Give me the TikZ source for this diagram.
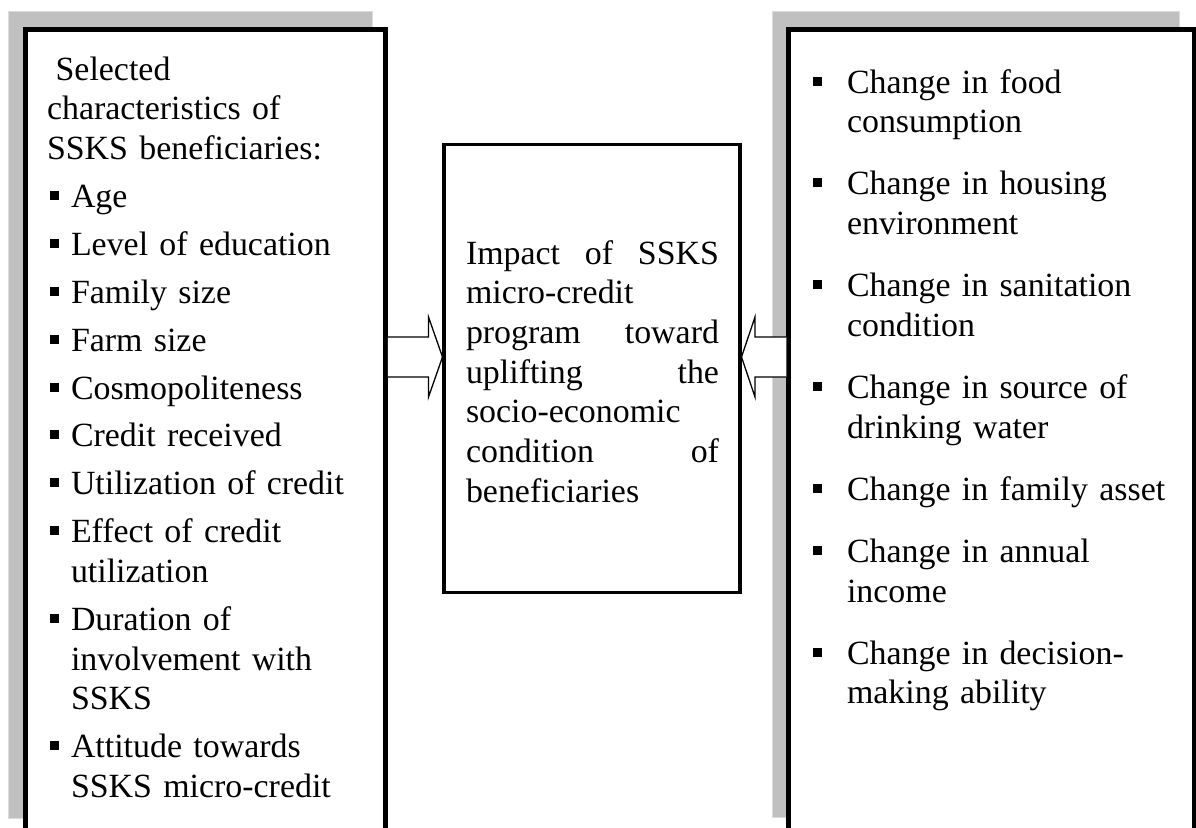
\documentclass[tikz,border=0pt]{standalone}
\usepackage{fontspec}
\setmainfont{Liberation Serif}
\usetikzlibrary{calc}
\definecolor{shadowgray}{HTML}{C0C0C0}
\definecolor{shadowedge}{HTML}{DCDCDC}
% square bullet and indents for the two lists
\newcommand{\sqbullet}{\rule[7.5pt]{9pt}{9pt}}
\newcommand{\litem}{\leavevmode\hspace*{24pt}\llap{\sqbullet\hspace{12.5pt}}}
\newcommand{\lcont}{\leavevmode\hspace*{24pt}}
\newcommand{\ritem}{\leavevmode\llap{\sqbullet\hspace{25pt}}}
\begin{document}
\begin{tikzpicture}[x=1pt,y=-1pt,
  shadowbox/.style={fill=shadowgray,draw=shadowedge,line width=1pt},
  framebox/.style={draw=black,fill=white,line width=4.6pt,rectangle,
    inner sep=0pt,outer sep=0pt,anchor=north west},
  bodytext/.style={font=\fontsize{33.9pt}{39.7pt}\selectfont,inner sep=0pt,
    outer sep=0pt,anchor=base west,align=left},
  blockarrow/.style={draw=black,fill=white,line width=1.3pt,line join=miter}]
\useasboundingbox (0,0) rectangle (1196,827);

% grey shadows behind the two side panels
\path[shadowbox] (8.5,11.5) rectangle (372,818);
\path[shadowbox] (772.5,11.5) rectangle (1179,817.5);

% panels
\node[framebox,minimum width=360.3pt,minimum height=815pt] (lbox) at (25.2,29.5) {};
\node[framebox,minimum width=405.3pt,minimum height=815pt] (rbox) at (788.7,29.5) {};
\node[framebox,line width=3.8pt,minimum width=296pt,minimum height=448pt] (mid) at (444,144.5) {};

% block arrows pointing into the central panel
\coordinate (ay) at (0,357);
\draw[blockarrow]
  ($(lbox.east|-ay)+(2.3,-20)$) -- ($(mid.west|-ay)+(-15.5,-20)$)
  -- ($(mid.west|-ay)+(-15.5,-40)$) -- ($(mid.west|-ay)+(-1.5,0)$)
  -- ($(mid.west|-ay)+(-15.5,40)$) -- ($(mid.west|-ay)+(-15.5,20)$)
  -- ($(lbox.east|-ay)+(2.3,20)$);
\draw[blockarrow]
  ($(rbox.west|-ay)+(-2.3,-20)$) -- ($(mid.east|-ay)+(15,-20)$)
  -- ($(mid.east|-ay)+(15,-40)$) -- ($(mid.east|-ay)+(1.5,0)$)
  -- ($(mid.east|-ay)+(15,40)$) -- ($(mid.east|-ay)+(15,20)$)
  -- ($(rbox.west|-ay)+(-2.3,20)$);

% left panel: characteristics
\node[bodytext,text width=330pt] (ltext) at (47,80) {%
\hspace*{8.6pt}Selected\\
characteristics of\\
SSKS beneficiaries:\\[8.3pt]
\litem Age\\[8.2pt]
\litem Level of education\\[8.2pt]
\litem Family size\\[8.2pt]
\litem Farm size\\[8.2pt]
\litem Cosmopoliteness\\[8.2pt]
\litem Credit received\\[8.2pt]
\litem Utilization of credit\\[8.2pt]
\litem Effect of credit\\
\lcont utilization\\[8.2pt]
\litem Duration of\\
\lcont involvement with\\
\lcont SSKS\\[8.2pt]
\litem Attitude towards\\
\lcont SSKS micro-credit};

% central panel
\node[bodytext,text width=253pt] (mtext) at (466,264) {%
Impact\hfill of\hfill SSKS\\
micro-credit\\
program\hfill toward\\
uplifting\hfill the\\
socio-economic\\
condition\hfill of\\
beneficiaries};

% right panel: changes
\node[bodytext,text width=330pt] (rtext) at (847,93) {%
\ritem Change in food\\
consumption\\[22.4pt]
\ritem Change in housing\\
environment\\[22.4pt]
\ritem Change in sanitation\\
condition\\[22.4pt]
\ritem Change in source of\\
drinking water\\[22.4pt]
\ritem Change in family asset\\[22.4pt]
\ritem Change in annual\\
income\\[22.4pt]
\ritem Change in decision-\\
making ability};
\end{tikzpicture}
\end{document}
